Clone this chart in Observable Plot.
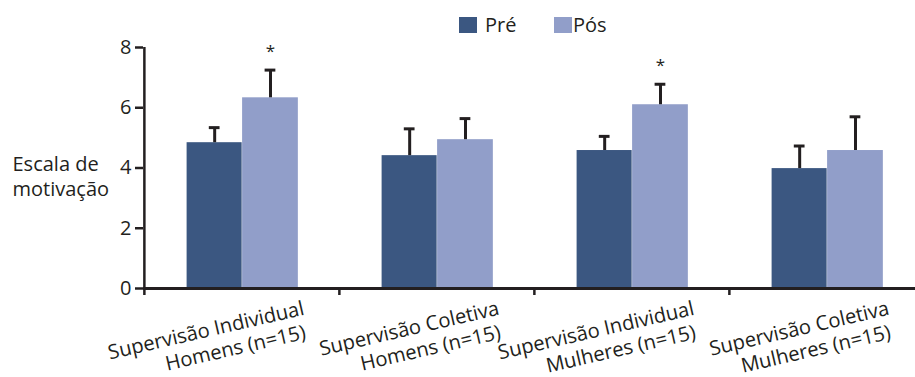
<!DOCTYPE html>
<html>
<head>
<meta charset="utf-8">
<script src="https://cdn.jsdelivr.net/npm/d3@7"></script>
<script src="https://cdn.jsdelivr.net/npm/@observablehq/plot@0.6"></script>
<style>
  html, body { margin: 0; padding: 0; background: #fff; }
  #wrap { position: relative; width: 915px; height: 377px; font-family: "Open Sans", sans-serif; color: #231f20; }
  .sw { position: absolute; top: 17px; width: 18px; height: 16px; }
  .lt { position: absolute; top: 15px; font-size: 20px; line-height: 20px; }
</style>
</head>
<body>
<div id="wrap">
  <div class="sw" style="left:459px;background:#3b5781"></div>
  <div class="lt" style="left:485px">Pré</div>
  <div class="sw" style="left:554px;background:#919ec9"></div>
  <div class="lt" style="left:573px">Pós</div>
</div>
<script>
const groups = [
  "Supervisão Individual\nHomens (n=15)",
  "Supervisão Coletiva\nHomens (n=15)",
  "Supervisão Individual\nMulheres (n=15)",
  "Supervisão Coletiva\nMulheres (n=15)"
];
const series = ["Pré", "Pós"];
const preMean = [4.84, 4.41, 4.58, 3.98];
const preSD   = [0.50, 0.89, 0.47, 0.75];
const posMean = [6.33, 4.94, 6.10, 4.58];
const posSD   = [0.92, 0.70, 0.68, 1.12];
const posSig  = ["*", "", "*", ""];
const yTicks  = [0, 2, 4, 6, 8];
const yLabel  = "Escala de\nmotivação";

const ink = "#231f20";
const colors = {"Pré": "#3b5781", "Pós": "#919ec9"};
const x0 = 143, x1 = 924;
const bw = (x1 - x0) / groups.length;

const pre = groups.map((g, i) => ({group: g, series: series[0], value: preMean[i], sd: preSD[i]}));
const pos = groups.map((g, i) => ({group: g, series: series[1], value: posMean[i], sd: posSD[i], sig: posSig[i]}));

const preC = 70.3, posC = 126.1, capHalf = 5.5;
const labelStyle = {frameAnchor: "bottom", rotate: -13, textAnchor: "end", lineAnchor: "top", fontSize: 20.2, fill: ink};

const chart = Plot.plot({
  width: 915,
  height: 377,
  marginLeft: 143,
  marginRight: 0,
  marginTop: 47,
  marginBottom: 89,
  style: {fontFamily: "Open Sans", fontSize: "20px", color: ink, background: "transparent"},
  x: {type: "band", domain: groups, range: [x0, x1], padding: 0},
  y: {domain: [0, 8]},
  marks: [
    Plot.barY(pre, {x: "group", y: "value", fill: colors["Pré"], insetLeft: 42.6, insetRight: bw - 97.9}),
    Plot.barY(pos, {x: "group", y: "value", fill: colors["Pós"], insetLeft: 98.1, insetRight: bw - 154.1}),
    Plot.ruleX(pre, {x: "group", y1: "value", y2: d => d.value + d.sd, dx: preC - bw / 2, stroke: ink, strokeWidth: 3}),
    Plot.ruleX(pos, {x: "group", y1: "value", y2: d => d.value + d.sd, dx: posC - bw / 2, stroke: ink, strokeWidth: 3}),
    Plot.tickY(pre, {x: "group", y: d => d.value + d.sd, insetLeft: preC - capHalf, insetRight: bw - preC - capHalf, stroke: ink, strokeWidth: 3}),
    Plot.tickY(pos, {x: "group", y: d => d.value + d.sd, insetLeft: posC - capHalf, insetRight: bw - posC - capHalf, stroke: ink, strokeWidth: 3}),
    Plot.text(pos, {x: "group", y: d => d.value + d.sd, text: "sig", dx: posC - bw / 2, dy: -19, fontSize: 17, fill: ink}),
    Plot.ruleY([0], {stroke: ink, strokeWidth: 3}),
    Plot.ruleX([groups[0]], {x: d => d, y1: 0, y2: 8, dx: -bw / 2, stroke: ink, strokeWidth: 2.5}),
    Plot.axisX({tickSize: 7, dx: -bw / 2, tickFormat: () => "", label: null, stroke: ink, strokeWidth: 2.5}),
    Plot.axisY({ticks: yTicks, tickSize: 8, tickPadding: 4, fontSize: 20, label: null, color: ink, strokeWidth: 2.5}),
    Plot.text([yLabel], {frameAnchor: "left", text: d => d, textAnchor: "start", lineAnchor: "top", dx: -131, dy: -14.5, lineHeight: 1.25, fontSize: 20, fill: ink}),
    Plot.text(groups, {x: d => d, text: d => d.split("\n")[0], dx: 60, dy: 12, ...labelStyle}),
    Plot.text(groups, {x: d => d, text: d => d.split("\n")[1], dx: 61.5, dy: 36, ...labelStyle})
  ]
});
chart.style.position = "absolute";
chart.style.left = "0px";
chart.style.top = "0px";
chart.style.overflow = "visible";
const wrap = document.getElementById("wrap");
wrap.insertBefore(chart, wrap.firstChild);
</script>
</body>
</html>
